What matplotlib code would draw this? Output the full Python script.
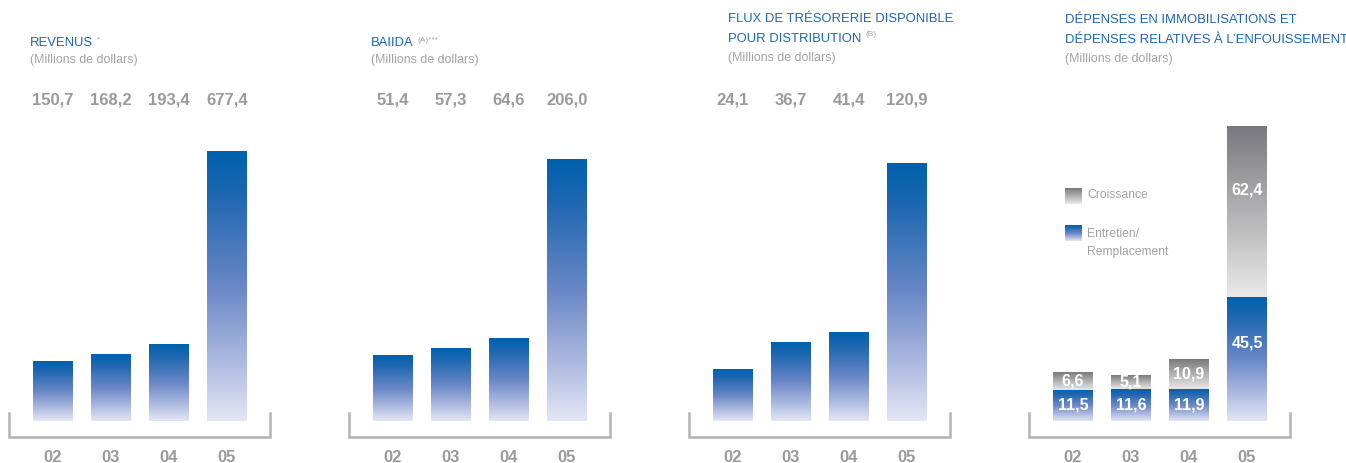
import numpy as np
import matplotlib
matplotlib.use("Agg")
import matplotlib.pyplot as plt
import matplotlib.transforms as mtransforms
from matplotlib.lines import Line2D

plt.rcParams['font.family'] = ['Liberation Sans', 'DejaVu Sans']

# data
years = ['02', '03', '04', '05']
revenus = [150.7, 168.2, 193.4, 677.4]
baiida = [51.4, 57.3, 64.6, 206.0]
flux = [24.1, 36.7, 41.4, 120.9]
entretien = [11.5, 11.6, 11.9, 45.5]
croissance = [6.6, 5.1, 10.9, 62.4]

titles = [["REVENUS"], ["BAIIDA"], ["FLUX DE TRÉSORERIE DISPONIBLE", "POUR DISTRIBUTION"],
          ["DÉPENSES EN IMMOBILISATIONS ET", "DÉPENSES RELATIVES À L’ENFOUISSEMENT"]]
notes = ["*", "(A)***", "(B)", ""]
subtitle = "(Millions de dollars)"
legend_labels = ["Croissance", "Entretien/\nRemplacement"]

# gradient stops (position from bottom, rgb)
BLUE_STOPS = [(0.0, (228, 230, 244)), (0.2, (178, 190, 226)), (0.5, (105, 135, 198)),
              (0.85, (28, 102, 176)), (1.0, (0, 97, 172))]
GRAY_STOPS = [(0.0, (233, 233, 233)), (0.5, (178, 178, 180)), (1.0, (122, 122, 126))]
TITLE_C = '#1f66b0'
TXT_G = '#a3a3a3'
VAL_G = '#9a9a9a'
LINE_G = '#b3b3b3'

W, H = 1346, 463
fig = plt.figure(figsize=(W / 100, H / 100), dpi=100)


def fx(px):
    return px / W


def fy(py):
    return 1 - py / H


def gradient(stops, n=256):
    t = np.linspace(0, 1, n)
    pos = [s[0] for s in stops]
    arr = np.stack([np.interp(t, pos, [s[1][c] for s in stops]) for c in range(3)], axis=1) / 255
    return arr[:, None, :]


def grad_bars(ax, vals, bottom, stops):
    bars = ax.bar(np.arange(len(vals)), vals, 0.68, bottom=bottom, color='none', edgecolor='none')
    for r in bars:
        x0, y0, w, h = r.get_x(), r.get_y(), r.get_width(), r.get_height()
        ax.imshow(gradient(stops), extent=[x0, x0 + w, y0, y0 + h], origin='lower',
                  aspect='auto', interpolation='bilinear', zorder=2)
    return bars


def fmt(v):
    return f"{v:.1f}".replace('.', ',')


panel_left = [9, 349, 689, 1029]
title_x = [30, 371, 728, 1065]
title_y = [[43.5], [43.5], [18.5, 38.5], [20, 40]]
sub_y = [60, 60, 58, 59]
fill = [0.894, 0.870, 0.854, 0.977]
series = [revenus, baiida, flux, None]
TFS = 9.4

renderer = fig.canvas.get_renderer()

for i in range(4):
    L = panel_left[i]
    ax = fig.add_axes([fx(L), fy(421), 261 / W, 301 / H])
    ax.axis('off')
    if series[i] is not None:
        vals = series[i]
        grad_bars(ax, vals, 0, BLUE_STOPS)
        ymax = max(vals) / fill[i]
        tr = mtransforms.blended_transform_factory(ax.transData, fig.transFigure)
        for k, v in enumerate(vals):
            ax.text(k, fy(100), fmt(v), transform=tr, ha='center', va='center',
                    fontsize=12, fontweight='bold', color=VAL_G)
    else:
        tot = [a + b for a, b in zip(entretien, croissance)]
        grad_bars(ax, entretien, 0, BLUE_STOPS)
        grad_bars(ax, croissance, entretien, GRAY_STOPS)
        ymax = max(tot) / fill[i]
        for k in range(4):
            for b, v in ((0, entretien[k]), (entretien[k], croissance[k])):
                f = 0.63 if v > 30 else 0.5
                ax.text(k, b + v * f, fmt(v), ha='center', va='center', fontsize=11.5,
                        fontweight='bold', color='white', zorder=3)
    ax.set_xlim(-0.759, 3.741)
    ax.set_ylim(0, ymax)

    # bracket baseline
    xs = [fx(L), fx(L), fx(L + 261), fx(L + 261)]
    ys = [fy(413), fy(437), fy(437), fy(413)]
    fig.add_artist(Line2D(xs, ys, color=LINE_G, lw=1.8, solid_joinstyle='miter'))

    tr = mtransforms.blended_transform_factory(ax.transData, fig.transFigure)
    for k, yr in enumerate(years):
        ax.text(k, fy(457), yr, transform=tr, ha='center', va='center',
                fontsize=12, fontweight='bold', color=VAL_G)

    # titles
    t = None
    for line, ly in zip(titles[i], title_y[i]):
        t = fig.text(fx(title_x[i]), fy(ly), line, ha='left', va='center',
                     fontsize=TFS, color=TITLE_C)
    if notes[i]:
        bb = t.get_window_extent(renderer)
        fig.text((bb.x1 + 4) / W, (bb.y1 + 1) / H, notes[i], ha='left', va='top',
                 fontsize=6, color=TXT_G)
    fig.text(fx(title_x[i]), fy(sub_y[i]), subtitle, ha='left', va='center',
             fontsize=8.9, color=TXT_G)

# legend in last panel
for stops, yy, lab, ly in ((GRAY_STOPS, 188, legend_labels[0], 195),
                           (BLUE_STOPS, 225, legend_labels[1], 243)):
    lax = fig.add_axes([fx(1065), fy(yy + 16), 17 / W, 16 / H])
    lax.imshow(gradient(stops), origin='lower', aspect='auto', extent=[0, 1, 0, 1])
    lax.axis('off')
    fig.text(fx(1087), fy(ly), lab, ha='left', va='center', fontsize=8.7, color=TXT_G,
             linespacing=1.75)

fig.savefig('out.png', dpi=100)
